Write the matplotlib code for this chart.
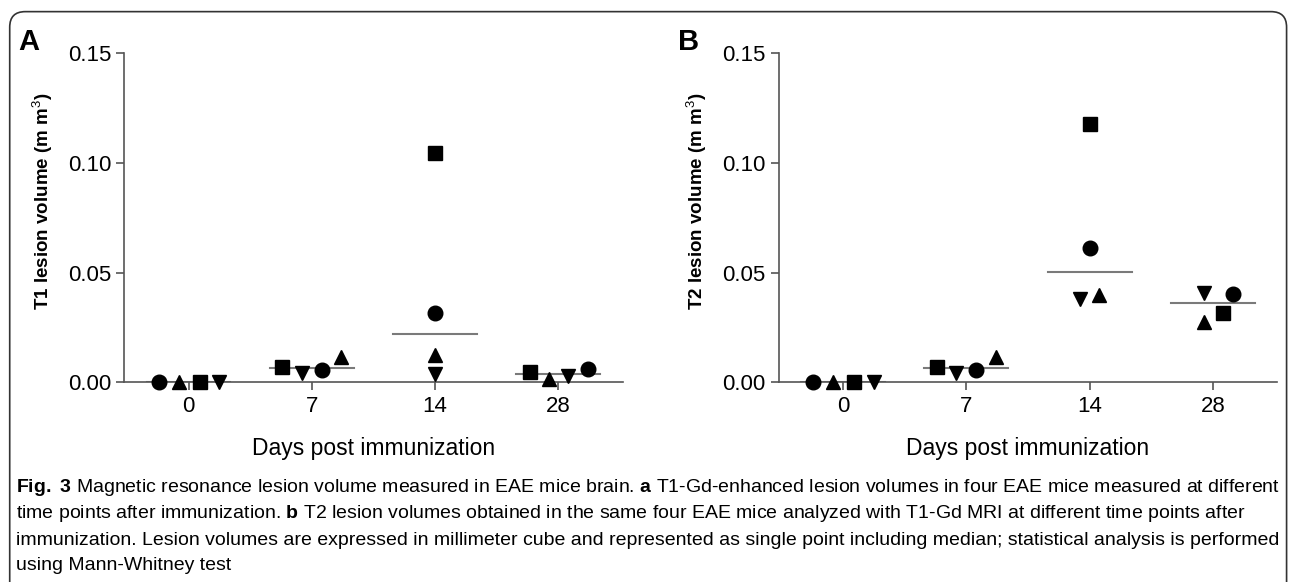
import numpy as np
import matplotlib.pyplot as plt
from matplotlib.patches import FancyBboxPatch

plt.rcParams['font.family'] = ['Liberation Sans', 'DejaVu Sans']
plt.rcParams['mathtext.fontset'] = 'custom'
plt.rcParams['mathtext.rm'] = 'Liberation Sans'
plt.rcParams['mathtext.bf'] = 'Liberation Sans:bold'

days = ['0', '7', '14', '28']
mice = ['circle', 'triangle', 'square', 'down']
markers = {'circle': 'o', 'triangle': '^', 'square': 's', 'down': 'v'}

# lesion volumes (mm3), one list per mouse, one value per day
t1_circle = [0.0, 0.0056, 0.0315, 0.0059]
t1_triangle = [0.0, 0.0114, 0.0125, 0.0015]
t1_square = [0.0, 0.0071, 0.1044, 0.0049]
t1_down = [0.0, 0.0041, 0.0038, 0.0030]

t2_circle = [0.0, 0.0056, 0.0611, 0.0403]
t2_triangle = [0.0, 0.0114, 0.0398, 0.0277]
t2_square = [0.0, 0.0071, 0.1180, 0.0318]
t2_down = [0.0, 0.0041, 0.0378, 0.0409]

t1 = {'circle': t1_circle, 'triangle': t1_triangle, 'square': t1_square, 'down': t1_down}
t2 = {'circle': t2_circle, 'triangle': t2_triangle, 'square': t2_square, 'down': t2_down}

# horizontal scatter of the points inside each day group
off_a = {'circle': [-0.24, 0.08, 0.0, 0.24],
         'triangle': [-0.08, 0.24, 0.0, -0.08],
         'square': [0.09, -0.24, 0.0, -0.23],
         'down': [0.25, -0.08, 0.0, 0.08]}
off_b = {'circle': [-0.24, 0.08, 0.0, 0.16],
         'triangle': [-0.08, 0.24, 0.08, -0.075],
         'square': [0.09, -0.24, 0.0, 0.085],
         'down': [0.25, -0.08, -0.08, -0.075]}

fig = plt.figure(figsize=(12.95, 5.82), dpi=100)

# rounded frame round the whole figure
frame = FancyBboxPatch((0.0075, -0.05), 0.986, 1.03, transform=fig.transFigure,
                       boxstyle='round,pad=0,rounding_size=0.012', fc='none',
                       ec='#333333', lw=1.2, mutation_aspect=1295 / 582)
fig.patches.append(frame)


def panel(left, data, offs, ylab, letter, letter_x):
    ax = fig.add_axes([left, 0.343, 0.3846, 0.5653])
    x = np.arange(len(days))
    for m in mice:
        ax.plot(x + np.array(offs[m]), data[m], ls='none', marker=markers[m],
                color='black', ms=10.5, clip_on=False, zorder=3)
    vals = np.array([data[m] for m in mice])
    med = np.median(vals, axis=0)
    for i in x:
        ax.plot([i - 0.34, i + 0.34], [med[i], med[i]], color='#7a7a7a', lw=1.5, zorder=2)
    ax.set_xlim(-0.52, 3.52)
    ax.set_ylim(0, 0.15)
    ax.set_xticks(x)
    ax.set_xticklabels(days)
    ax.set_yticks([0, 0.05, 0.10, 0.15])
    ax.set_yticklabels(['0.00', '0.05', '0.10', '0.15'])
    for s in ['top', 'right']:
        ax.spines[s].set_visible(False)
    for s in ['left', 'bottom']:
        ax.spines[s].set_color('#555555')
        ax.spines[s].set_linewidth(1.2)
    ax.tick_params(colors='#555555', labelcolor='black', labelsize=16, length=6, width=1.2)
    ax.set_xlabel('Days post immunization', fontsize=16.5, labelpad=15)
    ax.set_ylabel(ylab, fontsize=13.5, fontweight='bold')
    ax.yaxis.set_label_coords(-0.14, 0.55)
    fig.text(letter_x, 0.928, letter, fontsize=21, fontweight='bold', ha='center', va='center')
    return ax


panel(0.0961, t1, off_a, 'T1 lesion volume (m m$^3$)', 'A', 0.0225)
panel(0.6015, t2, off_b, 'T2 lesion volume (m m$^3$)', 'B', 0.532)

cap = [
    r'$\bf{Fig.}$ $\bf{3}$ Magnetic resonance lesion volume measured in EAE mice brain. $\bf{a}$ T1-Gd-enhanced lesion volumes in four EAE mice measured at different',
    r'time points after immunization. $\bf{b}$ T2 lesion volumes obtained in the same four EAE mice analyzed with T1-Gd MRI at different time points after',
    'immunization. Lesion volumes are expressed in millimeter cube and represented as single point including median; statistical analysis is performed',
    'using Mann-Whitney test',
]
ys = [0.163, 0.118, 0.072, 0.028]
for line, y in zip(cap, ys):
    fig.text(0.0125, y, line, fontsize=14, va='center', ha='left')

fig.savefig('out.png', dpi=100)
